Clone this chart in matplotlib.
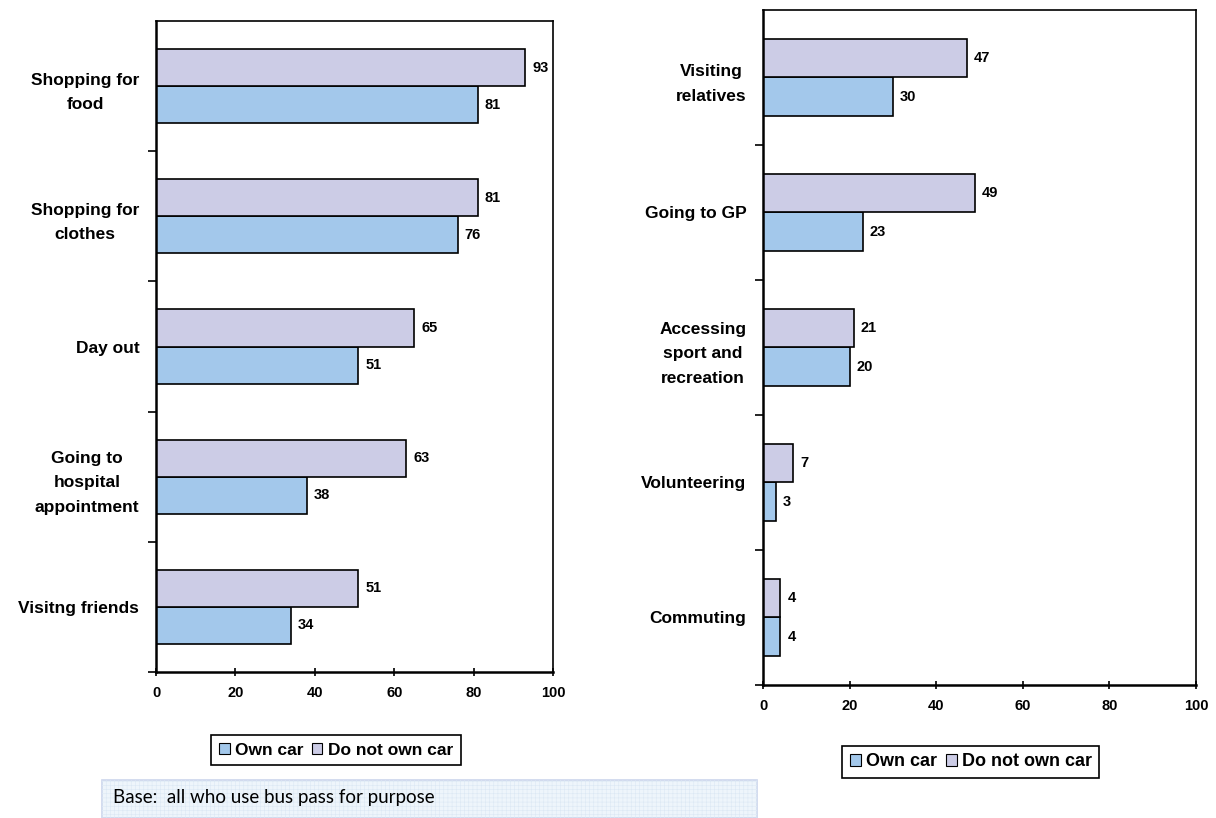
import matplotlib.pyplot as plt
from matplotlib.patches import Patch, Rectangle

# data
left_cats = ['Shopping for\nfood', 'Shopping for\nclothes', 'Day out',
             'Going to\nhospital\nappointment', 'Visitng friends']
left_own = [81, 76, 51, 38, 34]
left_not_own = [93, 81, 65, 63, 51]

right_cats = ['Visiting\nrelatives', 'Going to GP', 'Accessing\nsport and\nrecreation',
              'Volunteering', 'Commuting']
right_own = [30, 23, 20, 3, 4]
right_not_own = [47, 49, 21, 7, 4]

x_ticks = [0, 20, 40, 60, 80, 100]

BLUE = '#A3C8EB'
PURPLE = '#CCCCE6'
FONT = 'Liberation Sans'

fig = plt.figure(figsize=(12.16, 8.18), dpi=100)
fig.patch.set_facecolor('white')


def draw_panel(ax, cats, own, not_own, bar_h):
    pos = list(range(len(cats)))
    ax.barh([p + bar_h / 2 for p in pos], own, height=bar_h, color=BLUE,
            edgecolor='black', linewidth=1.2)
    ax.barh([p - bar_h / 2 for p in pos], not_own, height=bar_h, color=PURPLE,
            edgecolor='black', linewidth=1.2)
    for p, v in zip(pos, own):
        ax.annotate(str(v), (v, p + bar_h / 2), xytext=(5, 0), textcoords='offset points',
                    va='center', ha='left', fontsize=10.5, fontweight='bold', family=FONT)
    for p, v in zip(pos, not_own):
        ax.annotate(str(v), (v, p - bar_h / 2), xytext=(5, 0), textcoords='offset points',
                    va='center', ha='left', fontsize=10.5, fontweight='bold', family=FONT)

    ax.set_xlim(0, 100)
    ax.set_ylim(len(cats) - 0.5, -0.5)
    ax.set_xticks(x_ticks)
    ax.set_xticklabels([str(t) for t in x_ticks], fontsize=10.5, fontweight='bold', family=FONT)
    ax.tick_params(axis='x', direction='inout', length=6, width=1.2, pad=7)

    # category ticks at group boundaries, labels at group centres
    ax.set_yticks([p + 0.5 for p in pos[:-1]] + [len(cats) - 0.5])
    ax.set_yticklabels([])
    ax.set_yticks(pos, minor=True)
    ax.set_yticklabels(cats, minor=True, fontsize=12.5, fontweight='bold', family=FONT,
                       multialignment='center', linespacing=1.8)
    ax.tick_params(axis='y', which='major', direction='out', length=6, width=1.2)
    ax.tick_params(axis='y', which='minor', length=0, pad=12)
    for s in ax.spines.values():
        s.set_linewidth(1.2)
    ax.spines['left'].set_linewidth(1.8)
    ax.spines['bottom'].set_linewidth(1.8)

    handles = [Patch(facecolor=BLUE, edgecolor='black', linewidth=0.8, label='Own car'),
               Patch(facecolor=PURPLE, edgecolor='black', linewidth=0.8, label='Do not own car')]
    return handles


ax1 = fig.add_axes([0.1283, 0.1785, 0.3265, 0.7958])
h = draw_panel(ax1, left_cats, left_own, left_not_own, 0.285)
leg1 = fig.legend(handles=h, loc='center', bbox_to_anchor=(0.2763, 0.0831), ncol=2,
                  prop={'family': FONT, 'weight': 'bold', 'size': 12.5},
                  handlelength=0.6, handleheight=0.6, handletextpad=0.3, columnspacing=0.5,
                  borderpad=0.45, fancybox=False, edgecolor='black', framealpha=1)
leg1.get_frame().set_linewidth(1.2)

ax2 = fig.add_axes([0.6275, 0.1626, 0.3561, 0.8252])
h = draw_panel(ax2, right_cats, right_own, right_not_own, 0.285)
leg2 = fig.legend(handles=h, loc='center', bbox_to_anchor=(0.7985, 0.0685), ncol=2,
                  prop={'family': FONT, 'weight': 'bold', 'size': 13},
                  handlelength=0.6, handleheight=0.6, handletextpad=0.3, columnspacing=0.5,
                  borderpad=0.4, fancybox=False, edgecolor='black', framealpha=1)
leg2.get_frame().set_linewidth(1.2)

# base note box at the bottom
plt.rcParams['hatch.linewidth'] = 0.4
box = Rectangle((102 / 1216, 0), (757 - 102) / 1216, (818 - 780) / 818, transform=fig.transFigure,
                facecolor='#EEF5FB', edgecolor='#CCD5EC', linewidth=1.2)
fig.patches.append(box)
grid = Rectangle((102 / 1216, 0), (757 - 102) / 1216, (818 - 780) / 818, transform=fig.transFigure,
                 facecolor='none', edgecolor='#DCE8F4', hatch='++++', linewidth=0)
fig.patches.append(grid)
fig.text(113 / 1216, 1 - 798 / 818, 'Base:  all who use bus pass for purpose', fontsize=13.5,
         family='Lato', va='center', ha='left', color='black')

plt.savefig('out.png', dpi=100)
